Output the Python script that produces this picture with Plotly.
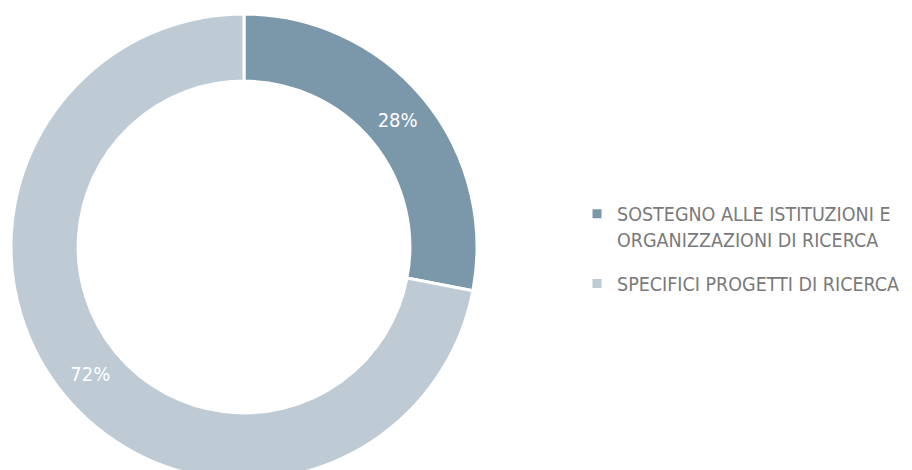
import plotly.graph_objects as go

labels = ["SOSTEGNO ALLE ISTITUZIONI E<br>ORGANIZZAZIONI DI RICERCA", "SPECIFICI PROGETTI DI RICERCA"]
values = [28, 72]
colors = ["#7B97AA", "#BECBD5"]

FONT = "DejaVu Sans Condensed"
W, H = 904, 472

fig = go.Figure()
fig.add_trace(go.Pie(
    labels=labels,
    values=values,
    sort=False,
    direction="clockwise",
    rotation=0,
    hole=0.712,
    marker=dict(colors=colors, line=dict(color="white", width=3)),
    texttemplate="%{percent:.0%}",
    textposition="inside",
    insidetextorientation="horizontal",
    textfont=dict(family=FONT, size=20, color="white"),
    domain=dict(x=[0, 472 / W], y=[0, 1]),
    hoverinfo="label+percent",
    showlegend=False,
))

# legend entries (one group per slice so the gap between entries can be set)
for i, (lab, col) in enumerate(zip(labels, colors)):
    fig.add_trace(go.Scatter(
        x=[None], y=[None], mode="markers",
        marker=dict(symbol="square", size=9, color=col),
        name=lab, legendgroup=f"g{i}", showlegend=True, hoverinfo="skip",
    ))

fig.update_layout(
    width=W, height=H,
    margin=dict(l=0, r=0, t=6, b=0),
    paper_bgcolor="white",
    plot_bgcolor="white",
    xaxis=dict(visible=False),
    yaxis=dict(visible=False),
    legend=dict(
        x=569 / W, y=0.4955, xanchor="left", yanchor="middle",
        valign="top",
        tracegroupgap=16,
        font=dict(family=FONT, size=19.5, color="#7a7a7a"),
        bgcolor="rgba(0,0,0,0)",
    ),
)

fig.write_html("out.html")
